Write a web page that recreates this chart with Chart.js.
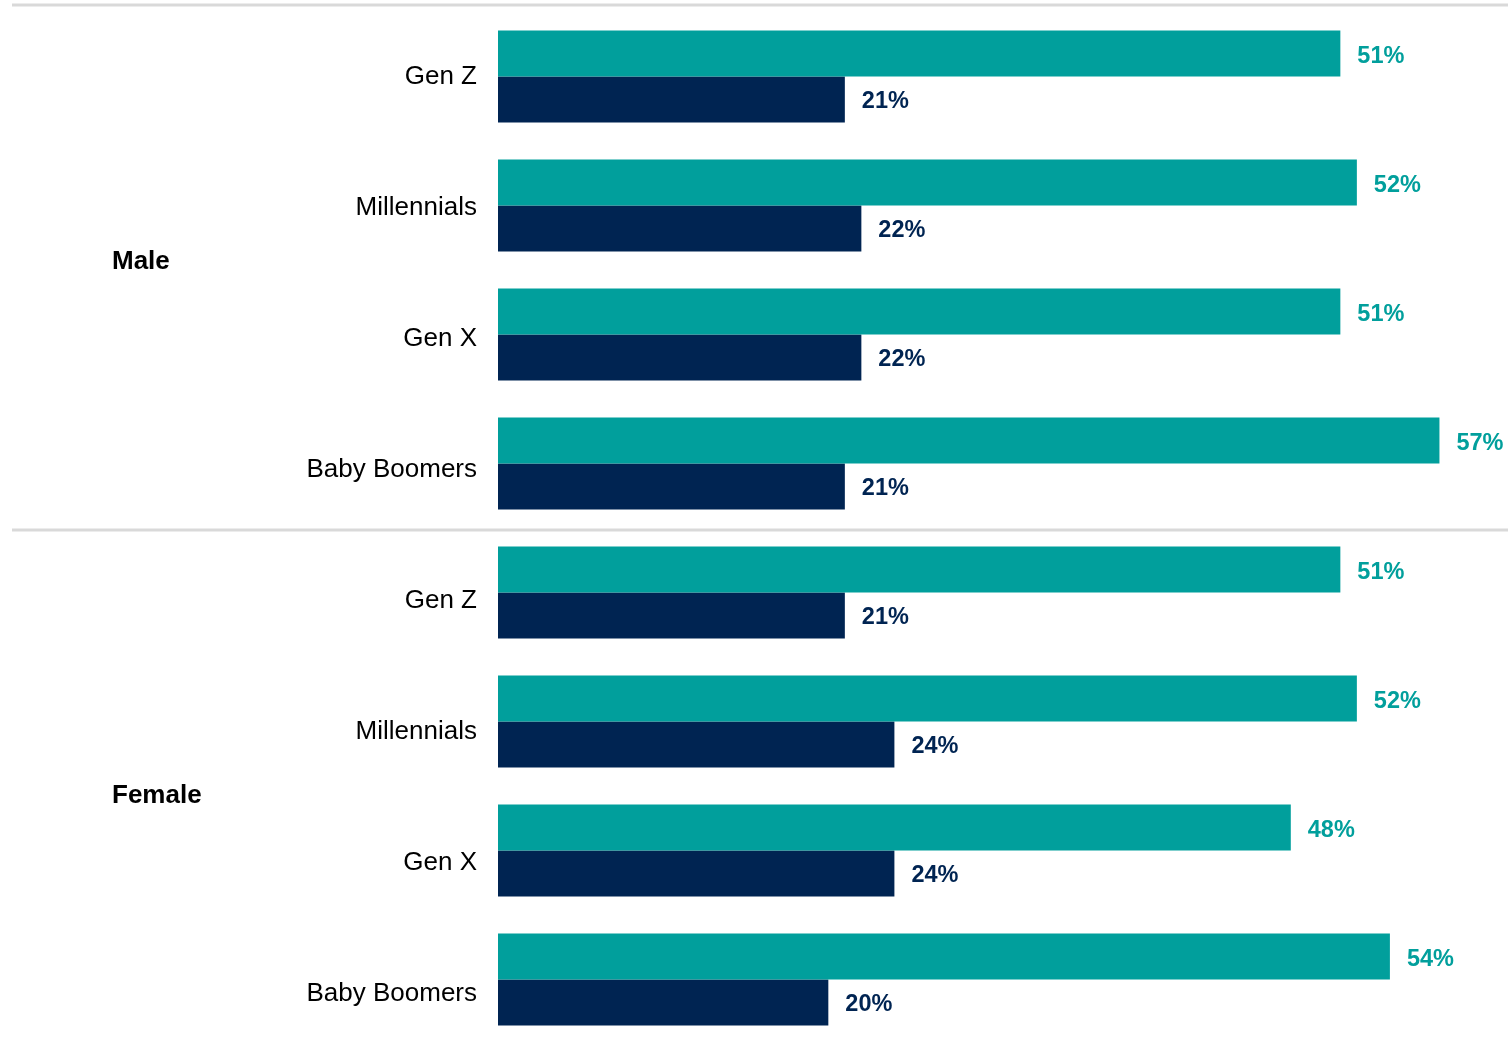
<!DOCTYPE html>
<html>
<head>
<meta charset="utf-8">
<script src="https://cdn.jsdelivr.net/npm/chart.js@4/dist/chart.umd.min.js"></script>
<style>
  html, body { margin: 0; padding: 0; background: #ffffff; }
  canvas { display: block; }
</style>
</head>
<body>
<canvas id="genChart" width="1508" height="1051"></canvas>
<script>
// generations, listed once for each gender group
var categories = ['Gen Z', 'Millennials', 'Gen X', 'Baby Boomers',
                  'Gen Z', 'Millennials', 'Gen X', 'Baby Boomers'];
var groups = ['Male', 'Female'];
var seriesA = [51, 52, 51, 57, 51, 52, 48, 54];
var seriesB = [21, 22, 22, 21, 21, 24, 24, 20];

var TEAL = '#019f9c';
var NAVY = '#002452';
var FONT = '"Liberation Sans", Arial, sans-serif';

var labelsPlugin = {
    id: 'labels',
    beforeDatasetsDraw: function(chart) {
        var ctx = chart.ctx;
        var y = chart.scales.y;
        var area = chart.chartArea;
        var half = (y.getPixelForValue(1) - y.getPixelForValue(0)) / 2;

        // grey separators above each gender group
        ctx.save();
        ctx.strokeStyle = '#d9d9d9';
        ctx.lineWidth = 3;
        ctx.beginPath();
        ctx.moveTo(12, area.top - 7);
        ctx.lineTo(chart.width, area.top - 7);
        var mid = y.getPixelForValue(4) - half + 2;
        ctx.moveTo(12, mid);
        ctx.lineTo(chart.width, mid);
        ctx.stroke();
        ctx.restore();
    },
    afterDatasetsDraw: function(chart) {
        var ctx = chart.ctx;
        var y = chart.scales.y;
        ctx.save();
        ctx.textBaseline = 'middle';

        // value labels to the right of each bar
        ctx.font = 'bold 23.5px ' + FONT;
        ctx.textAlign = 'left';
        chart.data.datasets.forEach(function(ds, di) {
            var meta = chart.getDatasetMeta(di);
            ctx.fillStyle = ds.backgroundColor;
            meta.data.forEach(function(bar, i) {
                ctx.fillText(ds.data[i] + '%', bar.x + 17, bar.y + (di === 0 ? 3 : 2));
            });
        });

        // generation names
        ctx.font = '26px ' + FONT;
        ctx.textAlign = 'right';
        ctx.fillStyle = '#000000';
        categories.forEach(function(name, i) {
            ctx.fillText(name, 477, y.getPixelForValue(i) + 2 * i);
        });

        // gender group names
        ctx.font = 'bold 26px ' + FONT;
        ctx.textAlign = 'left';
        var maleY = (y.getPixelForValue(0) + y.getPixelForValue(3)) / 2 - 8;
        var femaleY = (y.getPixelForValue(4) + y.getPixelForValue(7)) / 2 + 10;
        ctx.fillText(groups[0], 112, maleY);
        ctx.fillText(groups[1], 112, femaleY);
        ctx.restore();
    }
};

new Chart(document.getElementById('genChart').getContext('2d'), {
    type: 'bar',
    data: {
        labels: categories,
        datasets: [{
            data: seriesA,
            backgroundColor: TEAL,
            categoryPercentage: 0.713,
            barPercentage: 1.0
        }, {
            data: seriesB,
            backgroundColor: NAVY,
            categoryPercentage: 0.713,
            barPercentage: 1.0
        }]
    },
    options: {
        indexAxis: 'y',
        responsive: false,
        animation: false,
        layout: {
            padding: { left: 498, right: 19, top: 12, bottom: 7 }
        },
        plugins: {
            legend: { display: false },
            tooltip: { enabled: false }
        },
        scales: {
            x: { display: false, min: 0, max: 60 },
            y: { display: false }
        }
    },
    plugins: [labelsPlugin]
});
</script>
</body>
</html>
